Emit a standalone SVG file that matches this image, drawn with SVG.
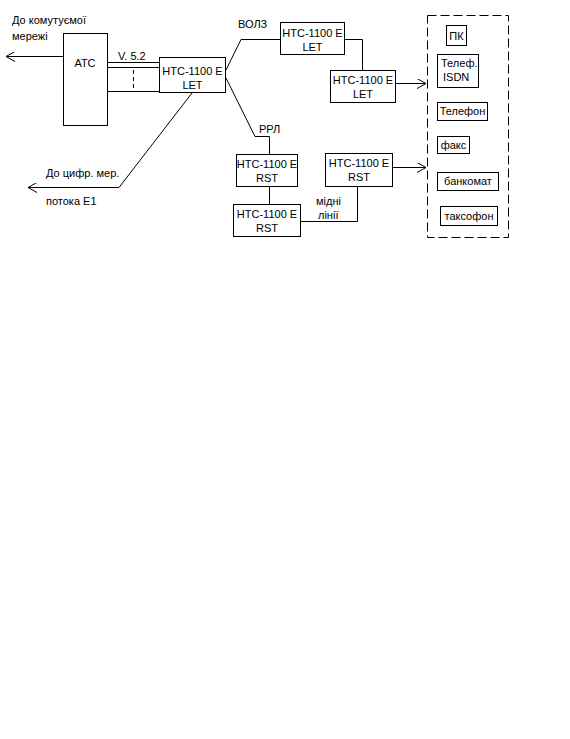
<svg xmlns="http://www.w3.org/2000/svg" width="570" height="739" viewBox="0 0 570 739">
<style>
text{font-family:"Liberation Sans",Arial,sans-serif;font-size:11px;fill:#000}
.c{text-anchor:middle}
.b{fill:#fff;stroke:#000;stroke-width:1}
.l{fill:none;stroke:#000;stroke-width:1}
</style>
<defs>
<marker id="ah" markerWidth="10" markerHeight="10" refX="9" refY="5" orient="auto" markerUnits="userSpaceOnUse">
<path d="M0,0 L9,5 L0,10" fill="none" stroke="#000" stroke-width="1"/>
</marker>
</defs>
<rect width="570" height="739" fill="#fff"/>
<g id="connectors">
<line class="l" x1="63" y1="56.5" x2="6" y2="56.5" marker-end="url(#ah)"/>
<line class="l" x1="107" y1="62.5" x2="159" y2="62.5"/>
<line class="l" x1="107" y1="67.5" x2="159" y2="67.5"/>
<line class="l" x1="107" y1="91.5" x2="159" y2="91.5"/>
<line class="l" x1="133.5" y1="70" x2="133.5" y2="89" stroke-dasharray="4,3"/>
<polyline class="l" points="226,70 241,39.5 280,39.5"/>
<polyline class="l" points="344,39.5 362.5,39.5 362.5,70"/>
<polyline class="l" points="226,78 255,136.5 269.5,136.5 269.5,154"/>
<line class="l" x1="269.5" y1="186" x2="269.5" y2="204"/>
<polyline class="l" points="301,221.5 357.5,221.5 357.5,187"/>
<line class="l" x1="396" y1="83.5" x2="426" y2="83.5" marker-end="url(#ah)"/>
<line class="l" x1="393" y1="167.5" x2="426" y2="167.5" marker-end="url(#ah)"/>
<polyline class="l" points="192,93 119,187.5 28,187.5" marker-end="url(#ah)"/>
</g>
<g id="labels">
<text x="12" y="24">До комутуємої</text>
<text x="12" y="40">мережі</text>
<text x="118" y="60">V. 5.2</text>
<text x="238" y="28">ВОЛЗ</text>
<text x="259" y="133">РРЛ</text>
<text x="316" y="205">мідні</text>
<text x="318" y="219">лінії</text>
<text x="46" y="177">До цифр. мер.</text>
<text x="46" y="205">потока Е1</text>
</g>
<g id="atc">
<rect class="b" x="63.5" y="33.5" width="44" height="92"/>
<text class="c" x="85" y="67">АТС</text>
</g>
<g id="let1">
<rect class="b" x="159.5" y="57.5" width="66" height="35"/>
<text class="c" x="192.5" y="75">НТС-1100 Е</text>
<text class="c" x="192.5" y="89">LET</text>
</g>
<g id="let2">
<rect class="b" x="280.5" y="22.5" width="64" height="32"/>
<text class="c" x="312.5" y="37">НТС-1100 Е</text>
<text class="c" x="312.5" y="51">LET</text>
</g>
<g id="let3">
<rect class="b" x="330.5" y="70.5" width="65" height="32"/>
<text class="c" x="363" y="84">НТС-1100 Е</text>
<text class="c" x="363" y="98">LET</text>
</g>
<g id="rst1">
<rect class="b" x="236.5" y="154.5" width="61" height="32"/>
<text class="c" x="267" y="168">НТС-1100 Е</text>
<text class="c" x="267" y="182">RST</text>
</g>
<g id="rst2">
<rect class="b" x="233.5" y="204.5" width="67" height="32"/>
<text class="c" x="267" y="218">НТС-1100 Е</text>
<text class="c" x="267" y="232">RST</text>
</g>
<g id="rst3">
<rect class="b" x="325.5" y="153.5" width="67" height="33"/>
<text class="c" x="359" y="167">НТС-1100 Е</text>
<text class="c" x="359" y="181">RST</text>
</g>
<g id="terminals">
<rect class="l" x="427.5" y="15.5" width="81" height="222" stroke-dasharray="9,4"/>
</g>
<g id="pk">
<rect class="b" x="446.5" y="25.5" width="20" height="20"/>
<text class="c" x="456.5" y="40">ПК</text>
</g>
<g id="isdn">
<rect class="b" x="437.5" y="54.5" width="41" height="33"/>
<text x="441" y="67">Телеф.</text>
<text x="443" y="81">ISDN</text>
</g>
<g id="tel">
<rect class="b" x="437.5" y="102.5" width="50" height="18"/>
<text class="c" x="462.5" y="115">Телефон</text>
</g>
<g id="fax">
<rect class="b" x="437.5" y="136.5" width="32" height="17"/>
<text class="c" x="453.5" y="149">факс</text>
</g>
<g id="atm">
<rect class="b" x="437.5" y="172.5" width="61" height="18"/>
<text class="c" x="468" y="185">банкомат</text>
</g>
<g id="payphone">
<rect class="b" x="440.5" y="206.5" width="57" height="19"/>
<text class="c" x="469" y="220">таксофон</text>
</g>
</svg>
